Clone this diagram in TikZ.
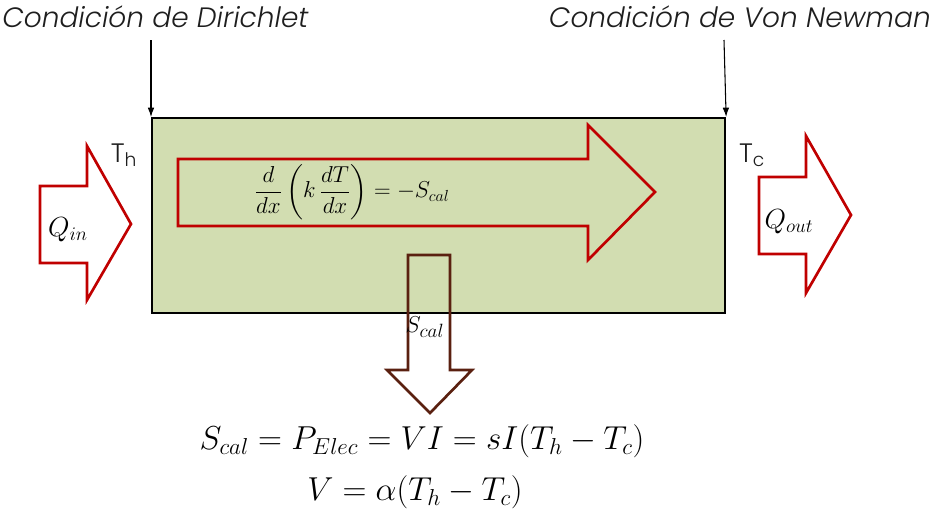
\documentclass[tikz,border=0pt]{standalone}
\usepackage{fontspec}
\usepackage{amsmath}
\usetikzlibrary{arrows.meta}
\newfontfamily\gothic{Poppins}[UprightFont={* Light},ItalicFont={* Light Italic}]
\definecolor{boxgreen}{RGB}{210,221,177}
\definecolor{arrred}{RGB}{192,0,0}
\definecolor{arrbrown}{RGB}{90,32,16}
\definecolor{txtgray}{RGB}{30,30,30}
\begin{document}
\begin{tikzpicture}[x=0.75pt,y=-0.75pt,
  blockred/.style={draw=arrred,line width=2pt,line join=miter},
  blockbrown/.style={draw=arrbrown,line width=2pt,line join=miter},
  lbl/.style={inner sep=0pt,text=txtgray,font=\gothic\fontsize{20}{22}\selectfont},
  cond/.style={inner sep=0pt,text=txtgray,font=\gothic\itshape\fontsize{21}{24}\selectfont},
  conn/.style={-{Latex[length=7pt,width=5pt]},line width=0.8pt}]
\useasboundingbox (0,0) rectangle (933,515);
% main box
\node[draw=black,line width=1.6pt,fill=boxgreen,minimum width=573*0.75pt,minimum height=195*0.75pt,inner sep=0pt,anchor=north west] (box) at (151,117) {};
% big arrow inside
\draw[blockred] (178,159) -- (588,159) -- (588,125) -- (655,192) -- (588,260) -- (588,226) -- (178,226) -- cycle;
\node[inner sep=0pt,font=\fontsize{17}{19}\selectfont] (eq) at (352,192) {$\dfrac{d}{dx}\left(k\,\dfrac{dT}{dx}\right)=-S_{cal}$};
% left arrow Qin
\draw[blockred] (40,186) -- (87,186) -- (87,146) -- (131,224) -- (87,300) -- (87,263) -- (40,263) -- cycle;
\node[inner sep=0pt,font=\fontsize{21}{23}\selectfont] (qin) at (68,230) {$Q_{in}$};
% right arrow Qout
\draw[blockred] (759,177) -- (806,177) -- (806,136) -- (851,215) -- (806,293) -- (806,254) -- (759,254) -- cycle;
\node[inner sep=0pt,font=\fontsize{21}{23}\selectfont] (qout) at (789,222) {$Q_{out}$};
% down arrow
\draw[blockbrown] (408,255) -- (450,255) -- (450,370) -- (472,370) -- (430,413) -- (387,370) -- (408,370) -- cycle;
\node[inner sep=0pt,font=\fontsize{19}{21}\selectfont] (scal) at (425,327) {$S_{cal}$};
% conditions
\node[cond,anchor=west] (dir) at (2,17) {Condición de Dirichlet};
\node[cond,anchor=east] (neu) at (931,17) {Condición de Von Newman};
\coordinate (dtop) at (151,40);
\coordinate (ntop) at (724,40);
\draw[conn] (dtop) -- (box.north west);
\draw[conn] (ntop) -- (box.north east);
% temperatures
\node[lbl] (th) at (124,155) {T\textsubscript{h}};
\node[lbl] (tc) at (752,155) {T\textsubscript{c}};
% equations
\node[inner sep=0pt,font=\fontsize{24}{27}\selectfont] (eq1) at (422,441) {$S_{cal}=P_{Elec}=VI=sI(T_h-T_c)$};
\node[inner sep=0pt,font=\fontsize{24}{27}\selectfont] (eq2) at (415,492) {$V=\alpha(T_h-T_c)$};
\end{tikzpicture}
\end{document}
